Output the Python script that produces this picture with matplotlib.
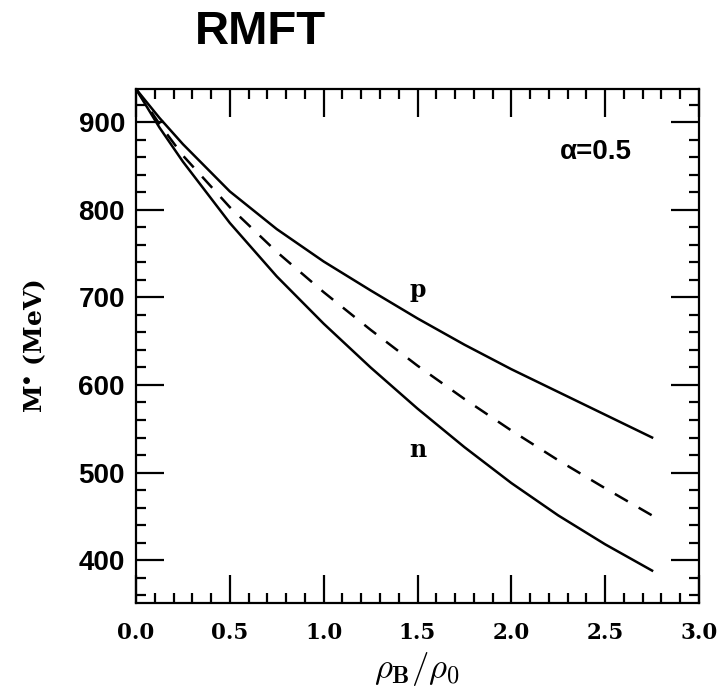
import matplotlib
matplotlib.use('agg')
from matplotlib import pyplot
from matplotlib.ticker import MultipleLocator

# effective nucleon masses vs density
density = [0.0, 0.125, 0.25, 0.5, 0.75, 1.0, 1.25, 1.5, 1.75, 2.0, 2.25, 2.5, 2.75]
mass_p = [938, 905, 875, 821, 778, 741, 708, 676, 646, 618, 592, 566, 540]
mass_avg = [938, 898, 862, 803, 752, 706, 663, 622, 584, 548, 514, 482, 451]
mass_n = [938, 894, 855, 785, 724, 670, 620, 573, 529, 488, 451, 418, 388]

pyplot.rcParams['mathtext.fontset'] = 'cm'

figura = pyplot.figure(figsize=(7.18, 6.88), dpi=100)
axes = figura.add_axes([136 / 718, 1 - 603 / 688, 563 / 718, 514 / 688])

axes.plot(density, mass_p, color='black', linewidth=1.8)
axes.plot(density, mass_avg, color='black', linewidth=1.8, dashes=(6, 5))
axes.plot(density, mass_n, color='black', linewidth=1.8)

axes.set_xlim(0, 3.0)
axes.set_ylim(351, 938)
axes.xaxis.set_major_locator(MultipleLocator(0.5))
axes.xaxis.set_minor_locator(MultipleLocator(0.1))
axes.yaxis.set_major_locator(MultipleLocator(100))
axes.yaxis.set_minor_locator(MultipleLocator(20))
axes.tick_params(which='both', direction='in', top=True, right=True, width=1.6)
axes.tick_params(which='major', length=20)
axes.tick_params(which='minor', length=7)
for spine in axes.spines.values():
    spine.set_linewidth(1.6)

axes.set_xticklabels(['%.1f' % v for v in axes.get_xticks()])
for lab in axes.get_xticklabels():
    lab.set_fontfamily('DejaVu Serif')
    lab.set_fontweight('bold')
    lab.set_fontsize(15.5)
for lab in axes.get_yticklabels():
    lab.set_fontfamily('Liberation Sans')
    lab.set_fontweight('bold')
    lab.set_fontsize(20)
axes.xaxis.set_tick_params(pad=14)
axes.yaxis.set_tick_params(pad=8)

axes.text(1.5, 708, 'p', fontsize=17, fontweight='bold', family='DejaVu Serif', ha='center', va='center')
axes.text(1.5, 526, 'n', fontsize=17, fontweight='bold', family='DejaVu Serif', ha='center', va='center')
axes.text(2.45, 866, 'α=0.5', fontsize=20, fontweight='bold', family='Liberation Sans', ha='center', va='center')

axes.set_xlabel(r'$\rho_{\mathbf{B}}/\rho_0$', fontsize=25, labelpad=4)
axes.set_ylabel(r'M$^{\bullet}$ (MeV)', fontsize=18, fontweight='bold', family='DejaVu Serif', labelpad=22)

figura.text(260 / 718, 1 - 32 / 688, 'RMFT', fontsize=34, fontweight='bold', family='Liberation Sans', ha='center', va='center')

pyplot.savefig('out.png', dpi=100)
